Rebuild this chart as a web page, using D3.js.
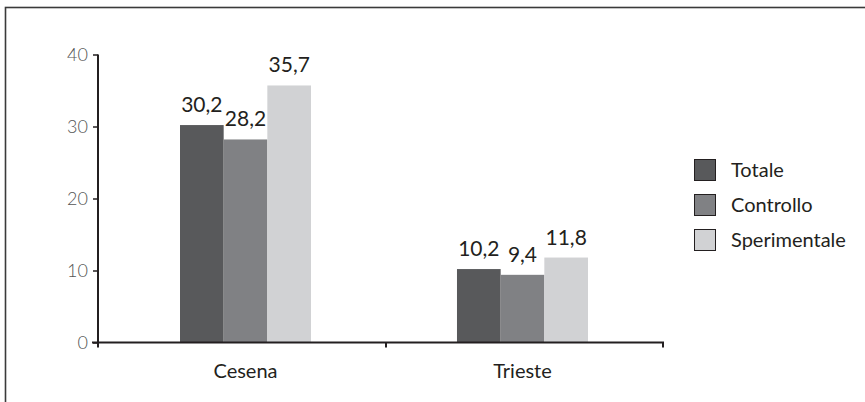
<!DOCTYPE html>
<html><head><meta charset="utf-8">
<script src="https://cdn.jsdelivr.net/npm/d3@7"></script>
<style>
html,body{margin:0;padding:0;background:#fff;}
svg{display:block;font-family:Lato,"Open Sans",sans-serif;}
</style></head>
<body>
<script>
const categories = ["Cesena", "Trieste"];
const seriesNames = ["Totale", "Controllo", "Sperimentale"];
const totale = [30.2, 10.2];
const controllo = [28.2, 9.4];
const sperimentale = [35.7, 11.8];
const yTicks = [0, 10, 20, 30, 40];
const colors = ["#58595b", "#808184", "#d1d2d4"];

const W = 865, H = 402;
const svg = d3.select("body").append("svg").attr("width", W).attr("height", H);

// frame
svg.append("rect").attr("x", 5.5).attr("y", 7.5).attr("width", W + 10).attr("height", H + 10)
  .attr("fill", "none").attr("stroke", "#3a3a3a").attr("stroke-width", 1.6);

const axisLeft = 98, axisRight = 663;
const y = d3.scaleLinear().domain([0, 40]).range([342.5, 54.5]);
const x0 = d3.scaleBand().domain(categories).range([180, 588]).paddingInner(0.527);
const x1 = d3.scaleBand().domain(seriesNames).range([0, x0.bandwidth()]);

const seriesVals = [totale, controllo, sperimentale];
const data = categories.map((c, i) => ({cat: c, vals: seriesNames.map((s, j) => ({s, v: seriesVals[j][i], j}))}));

// bars
const g = svg.selectAll("g.grp").data(data).join("g").attr("class", "grp")
  .attr("transform", d => `translate(${x0(d.cat)},0)`);
g.selectAll("rect").data(d => d.vals).join("rect")
  .attr("x", d => x1(d.s)).attr("width", x1.bandwidth())
  .attr("y", d => y(d.v)).attr("height", d => y(0) - y(d.v))
  .attr("fill", d => colors[d.j]);
g.selectAll("text").data(d => d.vals).join("text")
  .attr("x", d => x1(d.s) + x1.bandwidth() / 2)
  .attr("y", d => y(d.v) - 13)
  .attr("text-anchor", "middle").attr("font-size", 21).attr("fill", "#231f20")
  .text(d => String(d.v).replace(".", ","));

// y axis
const ya = svg.append("g").attr("transform", `translate(${axisLeft},0)`)
  .call(d3.axisLeft(y).tickValues(yTicks).tickSize(5).tickPadding(5).tickFormat(d => d));
ya.select(".domain").attr("stroke", "#231f20").attr("stroke-width", 2).attr("d", `M0,${y(40)}V${y(0)}`);
ya.selectAll(".tick line").attr("stroke", "#231f20").attr("stroke-width", 1.5);
ya.selectAll(".tick text").attr("font-size", 18).attr("font-weight", 300).attr("fill", "#555").attr("font-family", "Lato,sans-serif");

// x axis
const xa = svg.append("g");
xa.append("line").attr("x1", axisLeft - 6).attr("x2", axisRight + 1).attr("y1", y(0)).attr("y2", y(0))
  .attr("stroke", "#231f20").attr("stroke-width", 2);
const sep = [axisLeft, (x0(categories[0]) + x0.bandwidth() + x0(categories[1])) / 2 + 2, axisRight];
xa.selectAll("line.t").data(sep).join("line").attr("class", "t")
  .attr("x1", d => d).attr("x2", d => d).attr("y1", y(0)).attr("y2", y(0) + 5)
  .attr("stroke", "#231f20").attr("stroke-width", 2);
xa.selectAll("text").data(categories).join("text")
  .attr("x", d => x0(d) + x0.bandwidth() / 2).attr("y", 378)
  .attr("text-anchor", "middle").attr("font-size", 20).attr("fill", "#231f20").text(d => d);

// legend
const lg = svg.append("g").attr("transform", "translate(694,159)");
const li = lg.selectAll("g").data(seriesNames).join("g").attr("transform", (d, i) => `translate(0,${i * 35})`);
li.append("rect").attr("x", 0.5).attr("y", 0.5).attr("width", 21).attr("height", 21)
  .attr("fill", (d, i) => colors[i]).attr("stroke", "#231f20").attr("stroke-width", 1);
li.append("text").attr("x", 37).attr("y", 18).attr("font-size", 20).attr("fill", "#231f20").text(d => d);
</script>
</body></html>
